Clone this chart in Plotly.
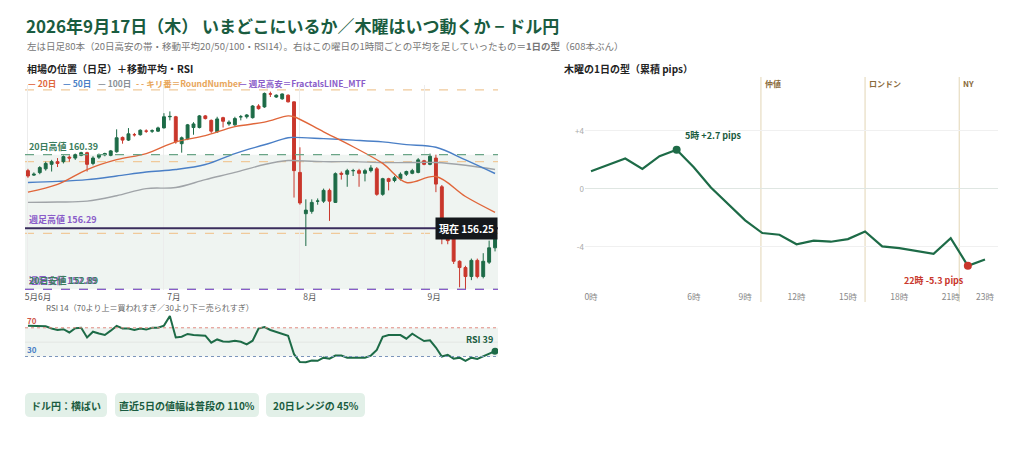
import plotly.graph_objects as go

# ---------------- data ----------------
OPEN = [159.5,159.25,159.39,159.6,159.85,160.0,160.0,160.25,160.2,160.35,
        160.5,159.9,160.25,160.38,160.35,160.55,161.35,161.2,161.5,161.5,
        161.7,161.7,161.7,161.88,162.5,162.5,161.0,161.27,161.9,161.9,
        162.55,162.3,161.66,162.45,162.1,162.05,162.5,162.5,162.45,163.1,
        163.05,163.77,163.6,163.5,163.7,163.33,159.4,157.1,157.23,157.8,
        157.8,158.4,157.73,159.35,159.3,159.5,159.5,159.35,159.5,159.6,
        158.18,159.05,158.95,159.05,159.3,159.35,159.4,160.05,159.85,160.2,
        158.6,155.85,155.85,154.45,154.1,153.6,154.5,153.6,154.4,155.2]
HIGH = [159.6,159.4,159.75,160.0,160.1,160.2,160.35,160.35,160.45,160.55,
        160.55,160.3,160.45,160.5,160.65,161.8,161.4,161.87,161.6,161.8,
        161.8,161.8,161.95,162.7,162.8,162.55,161.4,162.1,162.2,162.6,
        162.6,162.35,162.5,162.5,162.3,162.5,162.6,162.65,163.15,163.2,
        163.85,163.9,163.75,163.8,163.75,163.35,160.8,157.9,157.9,157.95,
        158.5,158.5,159.4,159.45,159.6,159.6,159.6,159.6,159.8,159.7,
        159.1,159.1,159.2,159.4,159.5,159.6,160.2,160.1,160.45,160.39,
        158.7,156.3,155.9,154.5,154.2,154.6,154.6,154.9,155.6,156.4]
LOW = [159.1,159.2,159.3,159.5,159.45,159.7,159.9,160.0,160.1,160.3,
       159.45,159.8,160.15,160.3,160.3,160.5,161.0,161.15,161.4,161.45,
       161.6,161.6,161.65,161.85,162.3,161.0,160.5,161.2,161.5,161.85,
       162.35,161.6,161.6,161.9,162.0,162.0,162.3,162.4,162.4,162.9,
       163.0,163.6,163.55,163.45,163.3,158.0,157.6,155.3,157.1,157.6,
       157.7,156.7,157.7,159.0,158.6,159.2,158.6,158.9,159.4,158.1,
       158.1,158.4,158.85,158.95,159.2,159.3,159.35,159.8,159.8,158.3,
       155.4,155.4,154.3,153.0,152.89,153.4,153.5,153.5,154.3,155.0]
CLOSE = [159.2,159.3,159.67,159.9,160.0,159.9,160.28,160.2,160.39,160.5,
         159.85,160.2,160.4,160.45,160.6,161.33,161.2,161.55,161.5,161.75,
         161.7,161.72,161.88,162.5,162.52,161.1,161.33,162.05,162.1,162.55,
         162.4,161.7,162.38,162.25,162.2,162.4,162.5,162.6,163.1,162.95,
         163.8,163.77,163.7,163.77,163.33,159.5,157.7,157.3,157.73,157.8,
         158.4,157.8,159.33,159.3,159.5,159.5,159.35,159.5,159.65,158.18,
         159.05,158.9,159.1,159.3,159.45,159.5,160.1,159.85,160.3,158.75,
         155.85,155.6,154.45,154.1,153.6,154.5,153.6,154.45,155.2,156.25]

MA_IDX = [0,5,10,15,20,25,30,35,40,44,45,50,55,60,64,69,74,79]
MA20 = [158.3,158.73,159.56,160.11,160.45,161.1,161.45,161.95,162.2,162.55,162.5,
        161.66,160.83,159.9,158.84,159.17,158.06,157.18]
MA50 = [158.84,158.9,159.0,159.2,159.42,159.56,159.84,160.45,160.94,161.33,161.35,
        161.28,161.2,161.1,160.95,160.8,160.1,159.34]
MA100 = [157.73,157.75,157.8,158.1,158.5,158.56,159.0,159.4,159.84,160.06,160.06,
         160.0,160.0,159.95,159.95,159.95,159.8,159.56]

RSI = [72.7,72.7,72.7,72,69,67,68,63.5,69.5,70,
       56.6,64.5,62,60,66,72.7,69,69,67,69,
       67.5,70,70,73,86.5,56.6,57.5,61.4,60,59.9,
       59,49.3,53.8,51,50.6,52,50.6,47,52,69,
       70.9,67,64.5,62,59,33.2,22.2,22,24.3,24,
       28.4,27,31.3,31.3,28.4,28.4,28.4,28.4,31.3,39.2,
       57.5,60,59.9,59.9,54.8,61.7,56.5,51.5,52.5,42.5,
       30,32.3,27,28.4,23.8,28.4,26.5,30,34,37.5]

MONTH_TICKS = [0, 23, 46, 67]
MONTH_LABELS = ["5月6月", "7月", "8月", "9月"]

HIGH20, LOW20 = 160.39, 152.89
WEEK_HIGH, WEEK_LOW = 156.29, 152.89
ROUND_NUMS = [164, 160, 156]
NOW = 156.25
RSI_NOW = 39

HOURS = list(range(24))
PIPS = [1.22,1.68,2.1,1.38,2.26,2.7,1.5,0.1,-1.04,-2.17,-3.04,-3.16,
        -3.82,-3.57,-3.64,-3.46,-2.93,-3.96,-4.08,-4.29,-4.47,-3.39,-5.3,-4.86]
SESSIONS = [(9.92, "仲値"), (16.0, "ロンドン"), (21.5, "NY")]
HOUR_TICKS = [0, 6, 9, 12, 15, 18, 21, 23]

PILLS = ["ドル円：横ばい", "直近5日の値幅は普段の 110%", "20日レンジの 45%"]

# ---------------- figure ----------------
W, H = 1024, 462
OFF = 8  # page body margin
def px(x): return (x - OFF) / W
def py(y): return 1 - (y - OFF) / H

GREEN = "#1d6b47"; RED = "#c9372c"
C20 = "#e0663a"; C50 = "#4a7fc6"; C100 = "#a0a4a8"; ORANGE = "#f0c99a"; PURPLE = "#8a5cc9"
DARK = "#1a5c40"
n = len(CLOSE)
X = list(range(n))

fig = go.Figure()
fig.add_trace(go.Candlestick(x=X, open=OPEN, high=HIGH, low=LOW, close=CLOSE,
    increasing=dict(line=dict(color=GREEN, width=1), fillcolor=GREEN),
    decreasing=dict(line=dict(color=RED, width=1), fillcolor=RED),
    whiskerwidth=0, xaxis="x", yaxis="y", showlegend=False, hoverinfo="skip"))
for vals, col in [(MA100, C100), (MA50, C50), (MA20, C20)]:
    fig.add_trace(go.Scatter(x=MA_IDX, y=vals, mode="lines", line=dict(color=col, width=1.4, shape="spline"),
                             xaxis="x", yaxis="y", showlegend=False, hoverinfo="skip"))
fig.add_trace(go.Scatter(x=X, y=RSI, mode="lines", line=dict(color=GREEN, width=2),
                         xaxis="x2", yaxis="y2", showlegend=False, hoverinfo="skip"))
fig.add_trace(go.Scatter(x=[X[-1]], y=[RSI[-1]], mode="markers", marker=dict(color=GREEN, size=7),
                         xaxis="x2", yaxis="y2", showlegend=False, hoverinfo="skip"))
fig.add_trace(go.Scatter(x=HOURS, y=PIPS, mode="lines", line=dict(color=GREEN, width=2.2),
                         xaxis="x3", yaxis="y3", showlegend=False, hoverinfo="skip"))
imax = PIPS.index(max(PIPS)); imin = PIPS.index(min(PIPS))
fig.add_trace(go.Scatter(x=[HOURS[imax]], y=[PIPS[imax]], mode="markers", marker=dict(color=GREEN, size=8),
                         xaxis="x3", yaxis="y3", showlegend=False, hoverinfo="skip"))
fig.add_trace(go.Scatter(x=[HOURS[imin]], y=[PIPS[imin]], mode="markers", marker=dict(color=RED, size=8),
                         xaxis="x3", yaxis="y3", showlegend=False, hoverinfo="skip"))

shapes = []
ann = []
# price panel
shapes.append(dict(type="rect", xref="x domain", yref="y", x0=0, x1=1, y0=LOW20, y1=HIGH20,
                   fillcolor="#eff4f1", line=dict(width=0), layer="below"))
for r in ROUND_NUMS:
    shapes.append(dict(type="line", xref="x domain", yref="y", x0=0, x1=1, y0=r, y1=r,
                       line=dict(color=ORANGE, width=1.2, dash="dash"), layer="below"))
shapes.append(dict(type="line", xref="x domain", yref="y", x0=0, x1=1, y0=HIGH20, y1=HIGH20,
                   line=dict(color="#6aa587", width=1.2, dash="dash")))
shapes.append(dict(type="line", xref="x domain", yref="y", x0=0, x1=1, y0=LOW20, y1=LOW20,
                   line=dict(color="#6aa587", width=1.2, dash="dash")))
shapes.append(dict(type="line", xref="x domain", yref="y", x0=0, x1=1, y0=WEEK_LOW, y1=WEEK_LOW,
                   line=dict(color=PURPLE, width=1.2, dash="dash")))
shapes.append(dict(type="line", xref="x domain", yref="y", x0=0, x1=1, y0=WEEK_HIGH, y1=WEEK_HIGH,
                   line=dict(color="#3a2d5c", width=2)))
ann.append(dict(xref="x domain", yref="y", x=0.005, y=HIGH20, text="<b>20日高値 160.39</b>", showarrow=False,
                xanchor="left", yanchor="bottom", font=dict(size=9, color="#3b7d5c")))
ann.append(dict(xref="x domain", yref="y", x=0.005, y=WEEK_HIGH, text="<b>週足高値 156.29</b>", showarrow=False,
                xanchor="left", yanchor="bottom", font=dict(size=9, color=PURPLE)))
ann.append(dict(xref="x domain", yref="y", x=0.005, y=LOW20, text="<b>週足安値 152.89</b>", showarrow=False,
                xanchor="left", yanchor="bottom", font=dict(size=9, color=PURPLE)))
ann.append(dict(xref="x domain", yref="y", x=0.005, y=LOW20, text="<b>20日安値 152.89</b>", showarrow=False,
                xanchor="left", yanchor="bottom", font=dict(size=9, color="#3b7d5c")))
ann.append(dict(xref="x domain", yref="y", x=1, y=NOW, text=f"<b>現在 {NOW:.2f}</b>", showarrow=False,
                xanchor="right", yanchor="middle", font=dict(size=10, color="white"),
                bgcolor="#15181c", borderpad=3))
# legend row
legend_items = [("— 20日", C20, 26), ("— 50日", C50, 61), ("— 100日", "#8a9096", 96),
                ("- - キリ番＝RoundNumber", "#e8a65a", 134), ("— 週足高安＝FractalsLINE_MTF", PURPLE, 237)]
for t, c, x in legend_items:
    ann.append(dict(xref="paper", yref="paper", x=px(x), y=py(83), text=f"<b>{t}</b>", showarrow=False,
                    xanchor="left", yanchor="middle", font=dict(size=8.5, color=c)))
# RSI panel
shapes.append(dict(type="rect", xref="x2 domain", yref="y2", x0=0, x1=1, y0=30, y1=70,
                   fillcolor="#eff4f1", line=dict(width=0), layer="below"))
shapes.append(dict(type="line", xref="x2 domain", yref="y2", x0=0, x1=1, y0=50, y1=50,
                   line=dict(color="#e3e6e4", width=1), layer="below"))
shapes.append(dict(type="line", xref="x2 domain", yref="y2", x0=0, x1=1, y0=70, y1=70,
                   line=dict(color="#e08a80", width=1, dash="dot")))
shapes.append(dict(type="line", xref="x2 domain", yref="y2", x0=0, x1=1, y0=30, y1=30,
                   line=dict(color="#7c95bb", width=1, dash="dot")))
ann.append(dict(xref="x2 domain", yref="y2", x=0, y=70, text="<b>70</b>", showarrow=False,
                xanchor="left", yanchor="bottom", font=dict(size=8, color="#d0574a")))
ann.append(dict(xref="x2 domain", yref="y2", x=0, y=30, text="<b>30</b>", showarrow=False,
                xanchor="left", yanchor="bottom", font=dict(size=8, color="#4a7fc6")))
ann.append(dict(xref="x2", yref="y2", x=X[-1], y=RSI[-1], text=f"<b>RSI {RSI_NOW}</b>", showarrow=False,
                xanchor="right", yanchor="bottom", yshift=3, font=dict(size=9, color=DARK)))
ann.append(dict(xref="paper", yref="paper", x=px(44), y=py(307), text="RSI 14（70より上＝買われすぎ／30より下＝売られすぎ）",
                showarrow=False, xanchor="left", yanchor="middle", font=dict(size=8, color="#666")))
# right panel
for h, name in SESSIONS:
    shapes.append(dict(type="line", xref="x3", yref="paper", x0=h, x1=h, y0=py(302), y1=py(77),
                       line=dict(color="#e9dfc6", width=1.3), layer="below"))
    ann.append(dict(xref="x3", yref="paper", x=h, y=py(84), text=f"<b>{name}</b>", showarrow=False,
                    xanchor="left", xshift=2, yanchor="middle", font=dict(size=8, color="#8a6a3a")))
ann.append(dict(xref="x3", yref="y3", x=HOURS[imax], y=PIPS[imax], text=f"<b>{HOURS[imax]}時 +{PIPS[imax]} pips</b>",
                showarrow=False, xanchor="left", yanchor="bottom", xshift=6, yshift=6, font=dict(size=9, color=DARK)))
ann.append(dict(xref="x3", yref="y3", x=HOURS[imin], y=PIPS[imin], text=f"<b>{HOURS[imin]}時 {PIPS[imin]} pips</b>",
                showarrow=False, xanchor="right", yanchor="top", xshift=-2, yshift=-6, font=dict(size=9, color=RED)))
# titles
ann.append(dict(xref="paper", yref="paper", x=px(24), y=py(25), text="<b>2026年9月17日（木） いまどこにいるか／木曜はいつ動くか − ドル円</b>",
                showarrow=False, xanchor="left", yanchor="middle", font=dict(size=17, color=DARK)))
ann.append(dict(xref="paper", yref="paper", x=px(25), y=py(46),
                text="左は日足80本（20日高安の帯・移動平均20/50/100・RSI14）。右はこの曜日の1時間ごとの平均を足していったもの＝<b>1日の型</b>（608本ぶん）",
                showarrow=False, xanchor="left", yanchor="middle", font=dict(size=9.5, color="#777")))
ann.append(dict(xref="paper", yref="paper", x=px(25), y=py(68), text="<b>相場の位置（日足）＋移動平均・RSI</b>",
                showarrow=False, xanchor="left", yanchor="middle", font=dict(size=10, color="#222")))
ann.append(dict(xref="paper", yref="paper", x=px(562), y=py(68), text="<b>木曜の1日の型（累積 pips）</b>",
                showarrow=False, xanchor="left", yanchor="middle", font=dict(size=10, color="#222")))
# pills
def cv(s):
    out = []; isx = True
    for tk in s.split():
        if tk.isalpha():
            out.append(tk); isx = True
        else:
            v = float(tk)
            out.append(f"{px(v):.5f}" if isx else f"{py(v):.5f}"); isx = not isx
    return " ".join(out)
pill_pos = [(25, 107), (115, 259), (266, 365)]
for (x0, x1), t in zip(pill_pos, PILLS):
    y0, y1, r = 393, 417, 5
    path = (f"M {x0+r} {y0} L {x1-r} {y0} Q {x1} {y0} {x1} {y0+r} L {x1} {y1-r} Q {x1} {y1} {x1-r} {y1} "
            f"L {x0+r} {y1} Q {x0} {y1} {x0} {y1-r} L {x0} {y0+r} Q {x0} {y0} {x0+r} {y0} Z")
    shapes.append(dict(type="path", xref="paper", yref="paper", path=cv(path),
                       fillcolor="#e2f0e8", line=dict(width=0)))
    ann.append(dict(xref="paper", yref="paper", x=px((x0+x1)/2), y=py((y0+y1)/2), text=f"<b>{t}</b>",
                    showarrow=False, xanchor="center", yanchor="middle", font=dict(size=10, color=DARK)))

fig.update_layout(
    width=W, height=H, margin=dict(l=0, r=0, t=0, b=0), paper_bgcolor="white", plot_bgcolor="white",
    font=dict(family="Noto Sans CJK JP, Noto Sans", size=9, color="#333"),
    shapes=shapes, annotations=ann, hovermode=False,
    xaxis=dict(domain=[px(25), px(498)], range=[-0.5, n-0.5], tickvals=MONTH_TICKS, ticktext=MONTH_LABELS,
               showgrid=True, gridcolor="#ececec", zeroline=False, rangeslider=dict(visible=False),
               tickfont=dict(size=8.5, color="#555"), ticks="", tickangle=0, ticklabelshift=10,
               anchor="y", fixedrange=True),
    yaxis=dict(domain=[py(290), py(85)], range=[152.85, 164.27], showticklabels=False, showgrid=False,
               zeroline=False, anchor="x"),
    xaxis2=dict(domain=[px(25), px(498)], range=[-0.5, n-0.5], showticklabels=False, showgrid=False,
                zeroline=False, anchor="y2"),
    yaxis2=dict(domain=[py(368), py(312)], range=[14, 92], showticklabels=False, showgrid=False,
                zeroline=False, anchor="x2"),
    xaxis3=dict(domain=[px(585), px(998)], range=[-0.35, 23.76], tickvals=HOUR_TICKS,
                ticktext=[f"{h}時" for h in HOUR_TICKS], showgrid=False, zeroline=False,
                tickfont=dict(size=8.5, color="#888"), tickangle=0, anchor="y3"),
    yaxis3=dict(domain=[py(290), py(77)], range=[-6.97, 7.72], tickvals=[-4, 0, 4], ticktext=["-4", "0", "+4"],
                showgrid=True, gridcolor="#f0f0f0", zeroline=True, zerolinecolor="#dfe6e2", zerolinewidth=1.2,
                tickfont=dict(size=8, color="#aaa"), anchor="x3"),
)
fig.write_html("out.html")
